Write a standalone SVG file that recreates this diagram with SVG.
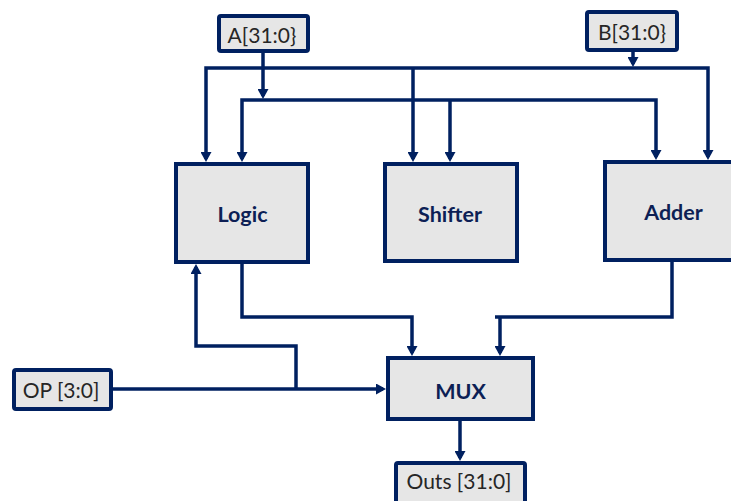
<svg xmlns="http://www.w3.org/2000/svg" width="731" height="501" viewBox="0 0 731 501">
  <defs>
    <marker id="arrow" viewBox="0 0 10 11" refX="7" refY="5.5" markerWidth="10" markerHeight="11" markerUnits="userSpaceOnUse" orient="auto-start-reverse">
      <path d="M0,0 L10,5.5 L0,11 Z" fill="#002060"/>
    </marker>
    <style>
      .box { fill: #e6e6e6; stroke: #002060; stroke-width: 4; }
      .io { rx: 2; }
      .wire { fill: none; stroke: #002060; stroke-width: 3.5; stroke-linejoin: miter; }
      .arr { marker-end: url(#arrow); }
      .lbl { font-family: Lato, "Open Sans", "Liberation Sans", sans-serif; font-size: 21px; fill: #262626; text-anchor: middle; }
      .unit { font-family: Lato, "Open Sans", "Liberation Sans", sans-serif; font-size: 21.5px; font-weight: 700; fill: #0d1f55; text-anchor: middle; }
    </style>
  </defs>
  <rect width="731" height="501" fill="#ffffff"/>

  <!-- wires -->
  <g id="connectors">
    <!-- A operand: stem onto the inner bus -->
    <path class="wire arr" d="M263,53 V96"/>
    <!-- B operand: stem onto the outer bus -->
    <path class="wire arr" d="M633,52 V64"/>
    <!-- outer bus (B) -->
    <path class="wire" d="M206,159 V68 H708 V157" marker-start="url(#arrow)" marker-end="url(#arrow)"/>
    <path class="wire arr" d="M413,68 V159"/>
    <!-- inner bus (A) -->
    <path class="wire" d="M242,159 V100 H656 V157" marker-start="url(#arrow)" marker-end="url(#arrow)"/>
    <path class="wire arr" d="M450,100 V159"/>
    <!-- unit outputs into MUX -->
    <path class="wire arr" d="M242,264 V317 H412 V353"/>
    <path class="wire" d="M672,262 V317 H495"/>
    <path class="wire arr" d="M500,317 V353"/>
    <!-- MUX output -->
    <path class="wire arr" d="M460,421 V458"/>
    <!-- opcode to MUX and Logic -->
    <path class="wire arr" d="M113,389 H383"/>
    <path class="wire arr" d="M296,389 V346 H196 V267"/>
  </g>

  <g id="in-a">
    <rect class="box io" x="219" y="16" width="89" height="35"/>
    <text class="lbl" x="262" y="42.5">A[31:0}</text>
  </g>
  <g id="in-b">
    <rect class="box io" x="587" y="12" width="90" height="38"/>
    <text class="lbl" x="632" y="39.5">B[31:0}</text>
  </g>
  <g id="logic">
    <rect class="box" x="176" y="164" width="132" height="98"/>
    <text class="unit" x="242.5" y="221.5">Logic</text>
  </g>
  <g id="shifter">
    <rect class="box" x="385" y="164" width="132" height="97"/>
    <text class="unit" x="450" y="222">Shifter</text>
  </g>
  <g id="adder">
    <rect class="box" x="605" y="162" width="140" height="98"/>
    <text class="unit" x="673.5" y="220">Adder</text>
  </g>
  <g id="mux">
    <rect class="box" x="388" y="358" width="145" height="61"/>
    <text class="unit" x="460.5" y="399">MUX</text>
  </g>
  <g id="op">
    <rect class="box io" x="14" y="370" width="97" height="39"/>
    <text class="lbl" x="61" y="398">OP [3:0]</text>
  </g>
  <g id="outs">
    <rect class="box io" x="396" y="463" width="129" height="45"/>
    <text class="lbl" x="459" y="488.5">Outs [31:0]</text>
  </g>
</svg>
